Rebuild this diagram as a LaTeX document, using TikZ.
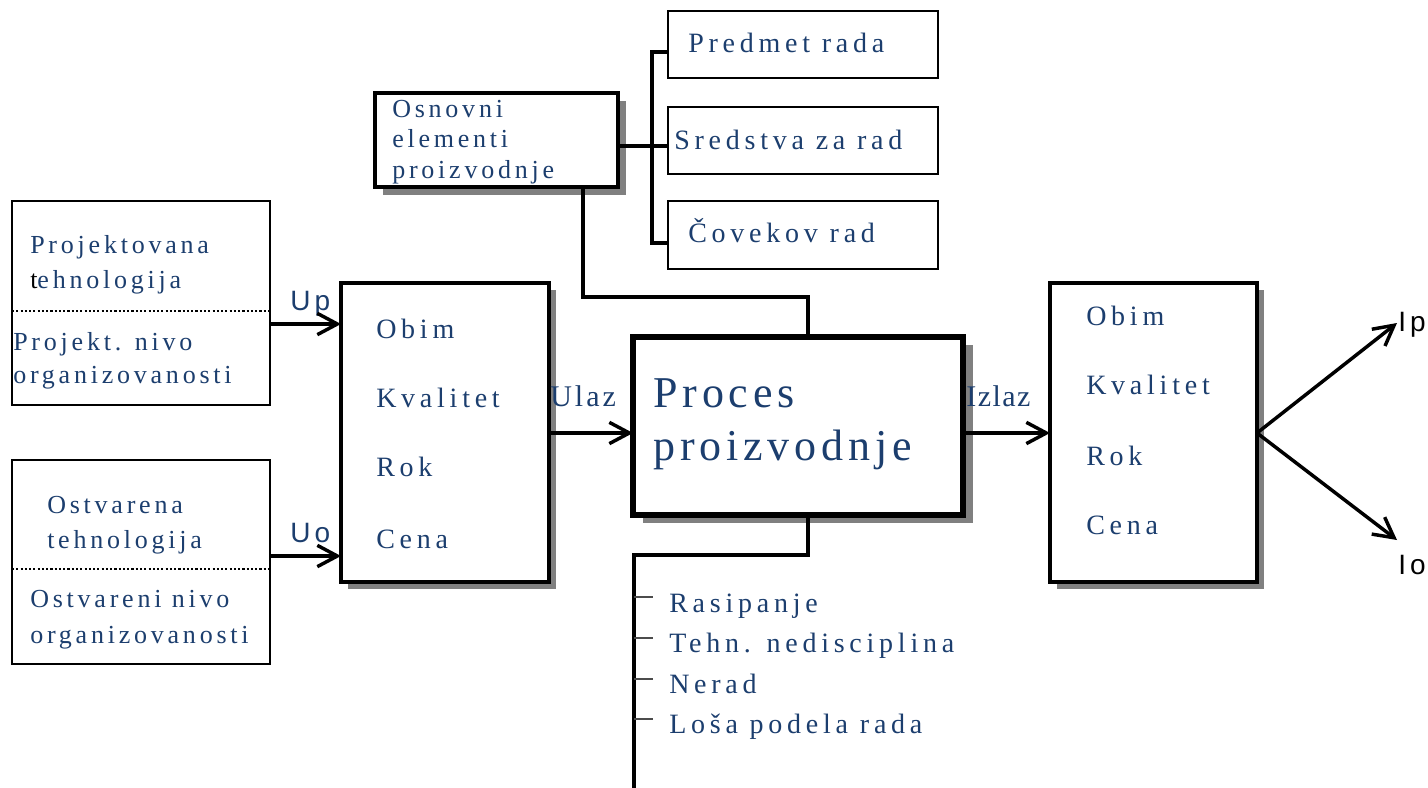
\documentclass[tikz,border=0pt]{standalone}
\usepackage{fontspec}
\usetikzlibrary{arrows.meta,shadows}
\newfontfamily\txtfont[LetterSpace=14.5]{Liberation Serif}
\newfontfamily\medfont[LetterSpace=17]{Liberation Serif}
\newfontfamily\ulfont[LetterSpace=10]{Liberation Serif}
\newfontfamily\izfont[LetterSpace=5]{Liberation Serif}
\newfontfamily\bigfont[LetterSpace=11]{Liberation Serif}
\newfontfamily\lblfont[LetterSpace=15]{Liberation Sans}
\definecolor{navy}{RGB}{28,62,110}
\definecolor{shad}{RGB}{128,128,128}
\begin{document}
\begin{tikzpicture}[x=0.75pt,y=-0.75pt,
  thinbox/.style={draw,fill=white,line width=1.1pt,inner sep=0pt,outer sep=0pt},
  osnbox/.style={draw,fill=white,line width=3pt,inner sep=0pt,outer sep=0pt,
    drop shadow={shadow xshift=6pt,shadow yshift=-6pt,fill=shad,opacity=1}},
  midbox/.style={draw,fill=white,line width=2.3pt,inner sep=0pt,outer sep=0pt,
    drop shadow={shadow xshift=5.5pt,shadow yshift=-5pt,fill=shad,opacity=1}},
  procbox/.style={draw,fill=white,line width=3.8pt,inner sep=0pt,outer sep=0pt,
    drop shadow={shadow xshift=7.5pt,shadow yshift=-6pt,fill=shad,opacity=1}},
  txt/.style={anchor=base west,inner sep=0pt,text=navy,font=\txtfont\fontsize{19.5}{23}\selectfont},
  mtxt/.style={anchor=base west,inner sep=0pt,text=navy,font=\medfont\fontsize{21}{25}\selectfont},
  ultxt/.style={anchor=base west,inner sep=0pt,text=navy,font=\ulfont\fontsize{22.5}{26}\selectfont},
  iztxt/.style={anchor=base west,inner sep=0pt,text=navy,font=\izfont\fontsize{22.5}{26}\selectfont},
  bigtxt/.style={anchor=base west,inner sep=0pt,text=navy,font=\bigfont\fontsize{33}{40}\selectfont},
  lbl/.style={anchor=base west,inner sep=0pt,font=\lblfont\fontsize{21}{25}\selectfont},
  conn/.style={line width=2.6pt},
  arr/.style={line width=2.6pt,-{Straight Barb[length=15pt,width=16pt,line width=2.6pt]}},
  tickln/.style={line width=0.8pt,draw=black!70},
  dotln/.style={line width=2pt,dash pattern=on 1.6pt off 1.6pt}]
\useasboundingbox[fill=white] (0,0) rectangle (1428,788);

% boxes
\node[thinbox,minimum width=193.5pt,minimum height=153pt] (proj) at (141,303) {};
\node[thinbox,minimum width=193.5pt,minimum height=153pt] (ostv) at (141,562) {};
\node[thinbox,minimum width=202.5pt,minimum height=50.5pt] (pred) at (803,44.5) {};
\node[thinbox,minimum width=202.5pt,minimum height=50.25pt] (sred) at (803,140.5) {};
\node[thinbox,minimum width=202.5pt,minimum height=51pt] (cov) at (803,235) {};
\node[osnbox,minimum width=182.25pt,minimum height=70.5pt] (osn) at (496.5,140) {};
\node[midbox,minimum width=156pt,minimum height=224.25pt] (inb) at (445,432.5) {};
\node[procbox,minimum width=247.5pt,minimum height=133.5pt] (proc) at (798,426) {};
\node[midbox,minimum width=155.25pt,minimum height=224.25pt] (outb) at (1153.5,432.5) {};

% dotted separators
\draw[dotln] (proj.west |- 0,311) -- (proj.east |- 0,311);
\draw[dotln] (ostv.west |- 0,569) -- (ostv.east |- 0,569);

% texts
\node[txt] (t1) at (392,118) {Osnovni};
\node[txt] (t2) at (392,148) {elementi};
\node[txt] (t3) at (392,179) {proizvodnje};
\node[mtxt] (t4) at (688,53) {Predmet rada};
\node[mtxt] (t5) at (674,150) {Sredstva za rad};
\node[mtxt] (t6) at (688,243) {Čovekov rad};
\node[txt] (t7) at (30,253) {Projektovana};
\node[txt] (t8) at (30,288) {{\color{black}t}ehnologija};
\node[txt] (t9) at (13,350) {Projekt. nivo};
\node[txt] (t10) at (13,383) {organizovanosti};
\node[txt] (t11) at (47,513) {Ostvarena};
\node[txt] (t12) at (47,548) {tehnologija};
\node[txt] (t13) at (30,607) {Ostvareni nivo};
\node[txt] (t14) at (30,643) {organizovanosti};
\node[mtxt] (t15) at (376,338) {Obim};
\node[mtxt] (t16) at (376,407) {Kvalitet};
\node[mtxt] (t17) at (376,476) {Rok};
\node[mtxt] (t18) at (376,548) {Cena};
\node[ultxt] (t19) at (550,406) {Ulaz};
\node[bigtxt] (t20) at (653,407) {Proces};
\node[bigtxt] (t21) at (653,460) {proizvodnje};
\node[iztxt] (t22) at (966,406) {Izlaz};
\node[mtxt] (t23) at (1086,325) {Obim};
\node[mtxt] (t24) at (1086,394) {Kvalitet};
\node[mtxt] (t25) at (1086,465) {Rok};
\node[mtxt] (t26) at (1086,534) {Cena};
\node[mtxt] (t27) at (669,612) {Rasipanje};
\node[mtxt] (t28) at (669,652) {Tehn. nedisciplina};
\node[mtxt] (t29) at (669,693) {Nerad};
\node[mtxt] (t30) at (669,733) {Loša podela rada};
\node[lbl,text=navy] (up) at (290,310) {Up};
\node[lbl,text=navy] (uo) at (290,542) {Uo};
\node[lbl] (ip) at (1398,331) {Ip};
\node[lbl] (io) at (1398,574) {Io};

% connectors
\draw[arr] (proj.east |- 0,324) -- (inb.west |- 0,324);
\draw[arr] (ostv.east |- 0,556) -- (inb.west |- 0,556);
\draw[arr] (inb.east |- 0,433) -- (proc.west |- 0,433);
\draw[arr] (proc.east |- 0,433) -- (outb.west |- 0,433);
\coordinate (fork) at (outb.east |- 0,433);
\coordinate (ipt) at (1397,323);
\coordinate (iot) at (1397,540);
\draw[arr] (fork) -- (ipt);
\draw[arr] (fork) -- (iot);

\draw[conn] (osn.south -| 583,0) |- (808,297) -- (proc.north -| 808,0);
\coordinate (bt) at (652,52);
\coordinate (bb) at (652,243);
\draw[conn] (pred.west |- bt) -- (bt) -- (bb) -- (cov.west |- bb);
\draw[conn] (osn.east |- 0,146) -- (sred.west |- 0,146);

\coordinate (lb) at (634,788);
\draw[conn] (proc.south -| 808,0) |- (634,555) -- (lb);
\foreach \yy in {597,638,679,719} \draw[tickln] (634,\yy) -- (653,\yy);
\end{tikzpicture}
\end{document}
